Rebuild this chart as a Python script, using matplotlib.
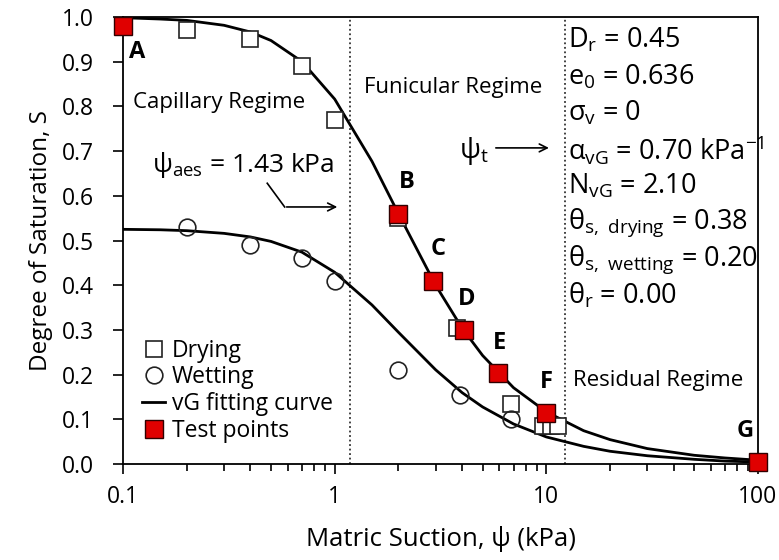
import numpy as np
import matplotlib
matplotlib.use("Agg")
import matplotlib.pyplot as plt
from matplotlib.ticker import LogLocator, FixedLocator, FixedFormatter, NullFormatter

plt.rcParams.update({
    'font.family': ['Open Sans', 'DejaVu Sans'],
    'mathtext.fontset': 'custom',
    'mathtext.rm': 'Open Sans',
    'mathtext.it': 'Open Sans',
    'font.size': 14,
})

# measured points
drying_psi = [0.1, 0.2, 0.4, 0.7, 1.0, 2.0, 3.8, 6.8, 9.6, 10.5, 11.4]
drying_S = [0.98, 0.97, 0.95, 0.89, 0.77, 0.55, 0.305, 0.135, 0.085, 0.085, 0.085]

wetting_psi = [0.2, 0.4, 0.7, 1.0, 2.0, 3.9, 6.8]
wetting_S = [0.53, 0.49, 0.46, 0.41, 0.21, 0.155, 0.10]

# test points A-G
test_labels = ['A', 'B', 'C', 'D', 'E', 'F', 'G']
test_psi = [0.1, 2.0, 2.9, 4.1, 5.9, 10.0, 100.0]
test_S = [0.98, 0.56, 0.41, 0.30, 0.205, 0.115, 0.005]
label_offsets = [(14, -26), (8, 32), (6, 32), (2, 31), (2, 30), (0, 31), (-13, 31)]

# vG fitting curves
curve_psi = [0.1, 0.15, 0.2, 0.3, 0.4, 0.5, 0.7, 1.0, 1.5, 2.0, 3.0, 4.0, 5.0,
             7.0, 10.0, 15.0, 20.0, 30.0, 50.0, 70.0, 100.0]
drying_fit = [0.998, 0.995, 0.992, 0.981, 0.966, 0.947, 0.900, 0.816, 0.677,
              0.560, 0.400, 0.304, 0.243, 0.171, 0.117, 0.075, 0.055, 0.035,
              0.020, 0.014, 0.009]
wetting_fit = [0.525, 0.524, 0.522, 0.516, 0.508, 0.498, 0.474, 0.429, 0.356,
               0.295, 0.211, 0.160, 0.128, 0.090, 0.061, 0.040, 0.029, 0.019,
               0.011, 0.007, 0.005]

regime_bounds = [1.18, 12.2]

params_text = [
    r'$\mathregular{D_r}$ = 0.45',
    r'$\mathregular{e_0}$ = 0.636',
    r'$\mathregular{σ_v}$ = 0',
    r'$\mathregular{α_{vG}}$ = 0.70 kPa$\mathregular{^{-1}}$',
    r'$\mathregular{N_{vG}}$ = 2.10',
    r'$\mathregular{θ_{s,\ drying}}$ = 0.38',
    r'$\mathregular{θ_{s,\ wetting}}$ = 0.20',
    r'$\mathregular{θ_r}$ = 0.00',
]

fig = plt.figure(figsize=(7.79, 5.60), dpi=100)
ax = fig.add_axes([0.158, 0.171, 0.815, 0.799])

ax.plot(curve_psi, drying_fit, 'k-', lw=2.0, label='vG fitting curve', zorder=2)
ax.plot(curve_psi, wetting_fit, 'k-', lw=2.0, zorder=2)

for xb in regime_bounds:
    ax.axvline(xb, color='#333333', ls=(0, (1, 1.5)), lw=1.3, zorder=1)

ax.plot(drying_psi, drying_S, 's', ms=11.5, mfc='white', mec='#222222', mew=1.2,
        ls='none', label='Drying', zorder=3)
ax.plot(wetting_psi, wetting_S, 'o', ms=12, mfc='none', mec='#222222', mew=1.2,
        ls='none', label='Wetting', zorder=3)
ax.plot(test_psi, test_S, 's', ms=12.5, mfc='#e00000', mec='#300000', mew=1.0,
        ls='none', label='Test points', zorder=4, clip_on=False)

for lab, x, y, off in zip(test_labels, test_psi, test_S, label_offsets):
    ax.annotate(lab, xy=(x, y), xytext=off, textcoords='offset pixels',
                ha='center', va='center', fontsize=17, fontweight='bold')

ax.set_xscale('log')
ax.set_xlim(0.1, 100)
ax.set_ylim(0, 1.0)
ax.xaxis.set_major_locator(FixedLocator([0.1, 1, 10, 100]))
ax.xaxis.set_major_formatter(FixedFormatter(['0.1', '1', '10', '100']))
ax.xaxis.set_minor_locator(LogLocator(base=10, subs=np.arange(2, 10)))
ax.xaxis.set_minor_formatter(NullFormatter())
ax.set_yticks(np.arange(0, 1.01, 0.1))
ax.set_yticklabels([f'{v:.1f}' for v in np.arange(0, 1.01, 0.1)])
ax.tick_params(which='major', direction='out', length=7, width=1.2, labelsize=16.5)
ax.tick_params(axis='y', pad=14)
ax.tick_params(axis='x', pad=8)
ax.tick_params(which='minor', direction='out', length=5, width=1.2)
for s in ax.spines.values():
    s.set_linewidth(1.3)

ax.set_xlabel('Matric Suction, ψ (kPa)', fontsize=18.5, labelpad=12)
ax.set_ylabel('Degree of Saturation, S', fontsize=17.5, labelpad=6)

# regime labels
ax.text(0.111, 0.808, 'Capillary Regime', fontsize=16, va='center', ha='left')
ax.text(1.38, 0.843, 'Funicular Regime', fontsize=16, va='center', ha='left')
ax.text(13.3, 0.188, 'Residual Regime', fontsize=16, va='center', ha='left')

# psi_aes annotation
ax.text(0.137, 0.668, r'$\mathregular{ψ_{aes}}$ = 1.43 kPa', fontsize=19,
        va='center', ha='left')
ax.plot([0.48, 0.58], [0.628, 0.575], color='black', lw=1.2)
ax.annotate('', xy=(1.06, 0.575), xytext=(0.575, 0.575),
            arrowprops=dict(arrowstyle='->', color='black', lw=1.2))

# psi_t annotation
ax.text(3.85, 0.70, r'$\mathregular{ψ_t}$', fontsize=20, va='center', ha='left')
ax.annotate('', xy=(10.6, 0.707), xytext=(5.6, 0.707),
            arrowprops=dict(arrowstyle='->', color='black', lw=1.2))

# parameter block
for i, t in enumerate(params_text):
    ax.text(12.6, 0.947 - i * 0.0815, t, fontsize=19.5, va='center', ha='left')

handles, labels = ax.get_legend_handles_labels()
order = [labels.index(k) for k in ['Drying', 'Wetting', 'vG fitting curve', 'Test points']]
ax.legend([handles[i] for i in order], [labels[i] for i in order],
          loc='lower left', bbox_to_anchor=(0.005, 0.012), frameon=False,
          fontsize=16.5, handlelength=1.0, handletextpad=0.3, labelspacing=0.12,
          borderaxespad=0.3)

fig.savefig('out.png', dpi=100, facecolor='white')
